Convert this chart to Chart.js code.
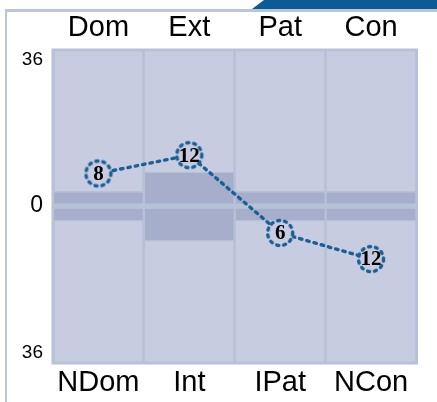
<!DOCTYPE html>
<html>
<head>
<meta charset="utf-8">
<script src="https://cdn.jsdelivr.net/npm/chart.js@4.4.1/dist/chart.umd.min.js"></script>
<style>
    body { margin: 0; background: white; }
    #wrap { width: 437px; height: 402px; }
</style>
</head>
<body>
<div id="wrap"><canvas id="myChart" width="437" height="402"></canvas></div>
<script>
// ---------------- data ----------------
const topLabels = ['Dom', 'Ext', 'Pat', 'Con'];
const bottomLabels = ['NDom', 'Int', 'IPat', 'NCon'];
const scores = [8, 12.5, -6.6, -13];
const scoreLabels = ['8', '12', '6', '12'];
const bandUpper = [3.6, 8.4, 3.6, 3.6];
const bandLower = [-3.7, -8.6, -3.7, -3.7];
const yTicks = [-36, 0, 36];

const plotBg = '#c8cce0';
const bandColor = '#a6aecb';
const gridColor = '#b6c3d7';
const lineColor = '#1b5f96';

// dashed circle used as point style
const marker = document.createElement('canvas');
marker.width = 34;
marker.height = 34;
(function () {
    const c = marker.getContext('2d');
    c.beginPath();
    c.arc(17, 17, 12.5, 0, Math.PI * 2);
    c.fillStyle = plotBg;
    c.fill();
    c.setLineDash([2, 5]);
    c.lineCap = 'round';
    c.lineWidth = 3.4;
    c.strokeStyle = lineColor;
    c.stroke();
})();

//---------------- plugins ----------------
const framePlugin = {
    id: 'frame',
    beforeDraw(chart) {
        const ctx = chart.ctx;
        const a = chart.chartArea;
        ctx.save();
        ctx.fillStyle = 'white';
        ctx.fillRect(0, 0, chart.width, chart.height);
        // outer frame
        ctx.fillStyle = '#b9c6da';
        ctx.fillRect(5, 9, chart.width - 5, 3);
        ctx.fillRect(5, 9, 2, chart.height - 9);
        // tab at the top right
        ctx.fillStyle = '#0d5b95';
        ctx.beginPath();
        ctx.moveTo(264, 0);
        ctx.lineTo(chart.width, 0);
        ctx.lineTo(chart.width, 9);
        ctx.lineTo(252, 9);
        ctx.closePath();
        ctx.fill();
        // plot background
        ctx.fillStyle = plotBg;
        ctx.fillRect(a.left, a.top, a.right - a.left, a.bottom - a.top);
        ctx.restore();
    },
    beforeDatasetsDraw(chart) {
        const ctx = chart.ctx;
        const a = chart.chartArea;
        ctx.save();
        ctx.strokeStyle = gridColor;
        ctx.lineWidth = 3;
        ctx.strokeRect(a.left, a.top, a.right - a.left, a.bottom - a.top);
        ctx.restore();
    }
};

const scoreTextPlugin = {
    id: 'scoreText',
    afterDatasetsDraw(chart) {
        const ctx = chart.ctx;
        const meta = chart.getDatasetMeta(2);
        ctx.save();
        ctx.font = 'bold 21px "Liberation Serif"';
        ctx.fillStyle = 'black';
        ctx.textAlign = 'center';
        ctx.textBaseline = 'middle';
        meta.data.forEach((pt, i) => {
            ctx.fillText(scoreLabels[i], pt.x, pt.y + 1);
        });
        ctx.restore();
    }
};

//---------------- chart ----------------
const data = {
    labels: bottomLabels,
    datasets: [{
        type: 'bar',
        data: bandUpper,
        backgroundColor: bandColor,
        borderColor: gridColor,
        borderWidth: 1.5,
        borderSkipped: false,
        barPercentage: 1,
        categoryPercentage: 1,
        grouped: false,
        order: 2,
    }, {
        type: 'bar',
        data: bandLower,
        backgroundColor: bandColor,
        borderColor: gridColor,
        borderWidth: 1.5,
        borderSkipped: false,
        barPercentage: 1,
        categoryPercentage: 1,
        grouped: false,
        order: 2,
    }, {
        type: 'line',
        data: scores,
        borderColor: lineColor,
        borderWidth: 3.4,
        borderDash: [2.5, 5],
        borderCapStyle: 'round',
        pointStyle: marker,
        pointRadius: 14,
        order: 1,
    }]
};

const config = {
    type: 'bar',
    data: data,
    plugins: [framePlugin, scoreTextPlugin],
    options: {
        responsive: false,
        animation: false,
        layout: { padding: { left: 0, right: 20.5, top: 0, bottom: 0 } },
        plugins: {
            legend: { display: false },
            tooltip: { enabled: false },
        },
        scales: {
            x: {
                position: 'bottom',
                offset: true,
                grid: { offset: true, color: gridColor, lineWidth: 3, drawTicks: false },
                border: { display: false },
                ticks: {
                    padding: 3,
                    color: 'black',
                    font: { family: '"Liberation Sans", Arial', size: 29 },
                },
                afterFit: (scale) => { scale.height = 39; },
            },
            xTop: {
                type: 'category',
                position: 'top',
                labels: topLabels,
                offset: true,
                grid: { display: false, drawTicks: false },
                border: { display: false },
                ticks: {
                    padding: 5,
                    color: 'black',
                    font: { family: '"Liberation Sans", Arial', size: 29 },
                },
                afterFit: (scale) => { scale.height = 50; },
            },
            y: {
                min: -38.5,
                max: 38.3,
                afterBuildTicks: (scale) => {
                    scale.ticks = yTicks.map(v => ({ value: v }));
                },
                grid: {
                    color: (ctx) => ctx.index === 1 ? gridColor : 'transparent',
                    lineWidth: 3,
                    drawTicks: false,
                },
                border: { display: false },
                ticks: {
                    padding: 10,
                    color: 'black',
                    callback: (v) => String(Math.abs(v)),
                    font: (ctx) => ({
                        family: '"Liberation Sans", Arial',
                        size: ctx.index === 1 ? 23 : 19,
                    }),
                },
                afterFit: (scale) => { scale.width = 53; },
            },
        },
    },
};

const myChart = new Chart(
    document.getElementById('myChart'),
    config
);
</script>
</body>
</html>
